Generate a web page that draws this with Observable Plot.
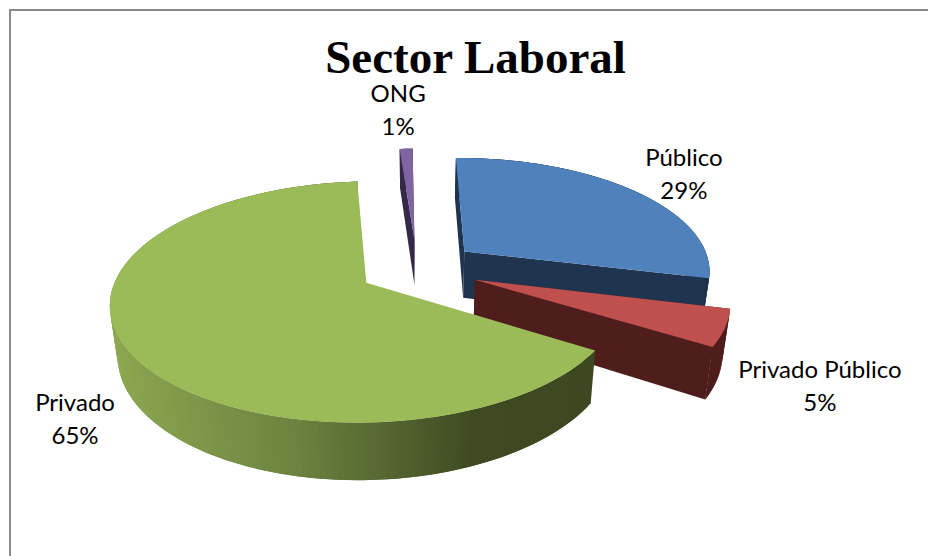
<!DOCTYPE html>
<html lang="es">
<head>
<meta charset="utf-8">
<title>Sector Laboral</title>
<script src="https://cdn.jsdelivr.net/npm/d3@7"></script>
<script src="https://cdn.jsdelivr.net/npm/@observablehq/plot@0.6"></script>
<style>
  html, body { margin: 0; padding: 0; background: #fff; }
  svg { display: block; }
</style>
</head>
<body>
<div id="chart"></div>
<script>
// Shares of employment by sector
const chartTitle = "Sector Laboral";
const categories = ["Público", "Privado Público", "Privado", "ONG"];
const shares = [29, 5, 65, 1];

const topColors = ["#4f81bd", "#c0504d", "#9bbb59", "#8064a2"];
const wallColors = ["#1f344f", "#4f1e1c", null, "#35294a"];

// How far each slice is pulled out of the pie
const explosions = [0.25, 0.25, 0.236, 0.27];

// Shading along the outer wall of the largest slice, left to right
const shadeStops = [108, 290, 470, 600];
const shadeColors = ["#8ca850", "#6d8340", "#3f4a22", "#3d4721"];
const wallShade = d3.scaleLinear().domain(shadeStops).range(shadeColors);

const W = 928, H = 556;

// Perspective view of the pie plane: a unit disk seen from above and in front
const view = {cx: 416.6, cy: 286.3, a: 250, b: 116, beta: 0.156, depth: 48, shrink: 0.975};
const q = Math.sqrt(1 - view.beta ** 2);
const rotation = -0.6 * Math.PI / 180;

function project(u, v, lower) {
  const den = 1 - view.beta * v;
  let x = view.cx + view.a * u * q / den;
  let y = view.cy + view.b * (v - view.beta) / den;
  if (lower) {
    x = view.cx + (x - view.cx) * view.shrink;
    y += view.depth * q / den;
  }
  return {x, y};
}

const arcs = d3.pie().sort(null).startAngle(rotation).endAngle(rotation + 2 * Math.PI)(shares);

const faces = [];   // one row per polygon vertex, drawn back to front
function addFace(id, points, color) {
  points.forEach((p) => faces.push({id, x: p.x, y: p.y, color}));
}

// Painting order: farthest slice first
const order = [3, 0, 1, 2];
for (const i of order) {
  const {startAngle: t0, endAngle: t1} = arcs[i];
  const tm = (t0 + t1) / 2;
  const ou = explosions[i] * Math.sin(tm), ov = -explosions[i] * Math.cos(tm);
  const rim = (t) => [ou + Math.sin(t), ov - Math.cos(t)];
  const stepSize = 1.2 * Math.PI / 180;
  const steps = Math.max(2, Math.ceil((t1 - t0) / stepSize));
  const angles = d3.range(steps + 1).map((k) => t0 + (t1 - t0) * k / steps);
  const name = categories[i];
  const wall = wallColors[i];

  // Radial cut faces
  if (wall) {
    for (const t of [t0, t1]) {
      const [u, v] = rim(t);
      addFace(`${name}-cut-${t}`, [project(ou, ov), project(u, v), project(u, v, true), project(ou, ov, true)], wall);
    }
  }

  // Outer curved wall, in short overlapping strips so it can be shaded without seams
  d3.pairs(angles).forEach(([a, b], k) => {
    const far = Math.min(t1, b + (t1 - t0) / steps);
    const [ua, va] = rim(a), [ub, vb] = rim(far);
    const pts = [project(ua, va), project(ub, vb), project(ub, vb, true), project(ua, va, true)];
    addFace(`${name}-wall-${k}`, pts, wall ?? wallShade((pts[0].x + pts[1].x) / 2));
  });

  // Top face
  addFace(`${name}-top`, [project(ou, ov), ...angles.map((t) => {
    const [u, v] = rim(t);
    return project(u, v);
  })], topColors[i]);
}

// Label rows: sited from each slice's rim midpoint
const labelOffsets = [[51, -18], [95, 56], [-52, 68], [-8, -40.5]];
const labels = categories.map((name, i) => {
  const tm = (arcs[i].startAngle + arcs[i].endAngle) / 2;
  const ou = explosions[i] * Math.sin(tm), ov = -explosions[i] * Math.cos(tm);
  const p = project(ou + Math.sin(tm), ov - Math.cos(tm));
  return {
    text: `${name}\n${shares[i]}%`,
    x: p.x + labelOffsets[i][0],
    y: p.y + labelOffsets[i][1]
  };
});

const chart = Plot.plot({
  width: W,
  height: H,
  margin: 0,
  style: {background: "#fff"},
  x: {domain: [0, W], range: [0, W], axis: null},
  y: {domain: [0, H], range: [0, H], axis: null},
  marks: [
    // Chart frame along the top and left
    Plot.ruleY([9.5], {stroke: "#8a8a8a", strokeWidth: 2, x1: 9, x2: W}),
    Plot.ruleX([9.5], {stroke: "#8a8a8a", strokeWidth: 2, y1: 9, y2: H}),
    Plot.line(faces, {
      x: "x", y: "y", z: "id",
      fill: "color", stroke: "none", curve: "linear"
    }),
    Plot.text(labels, {
      x: "x", y: "y", text: "text",
      fontFamily: "Lato, 'Open Sans', sans-serif", fontSize: 24, fill: "#000",
      lineHeight: 1.35, textAnchor: "middle"
    }),
    Plot.text([chartTitle], {
      x: () => 475, y: () => 57, text: (d) => d,
      fontFamily: "'Liberation Serif', serif", fontSize: 47, fontWeight: "bold", fill: "#000",
      textAnchor: "middle"
    })
  ]
});

document.getElementById("chart").append(chart);
</script>
</body>
</html>
